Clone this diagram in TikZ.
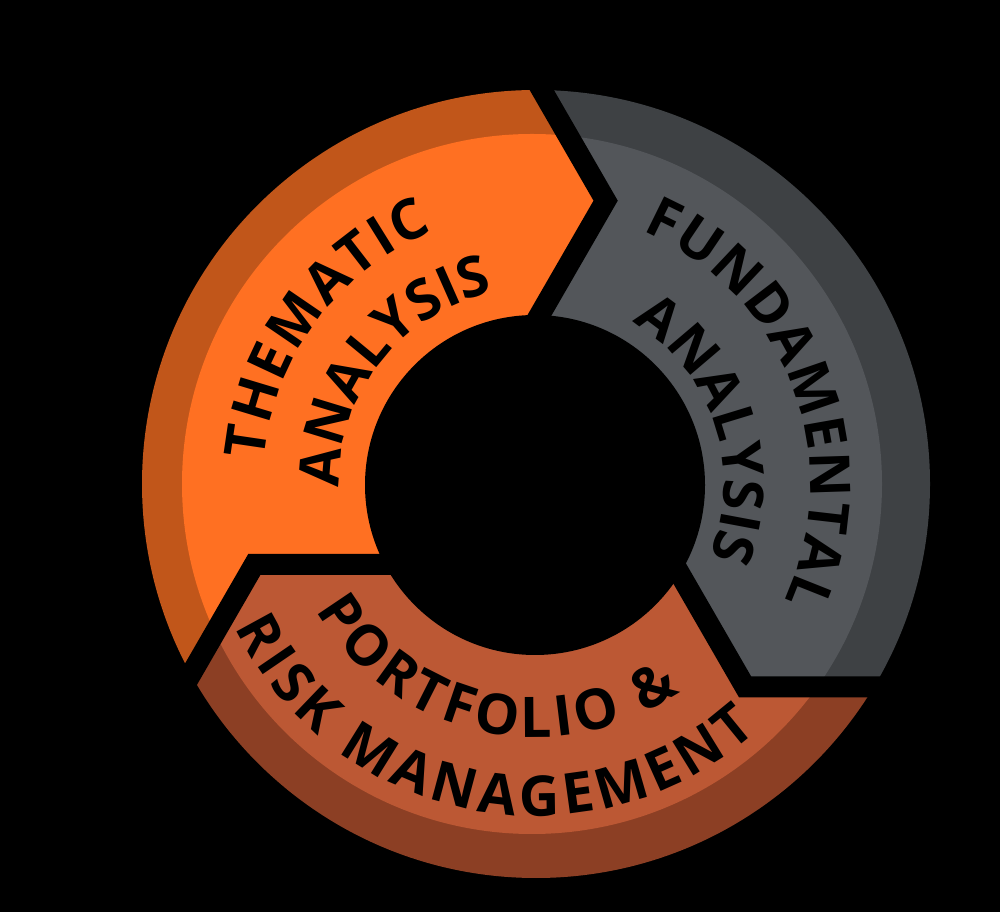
\documentclass[tikz,border=0pt]{standalone}
\usepackage{fontspec}
\setmainfont{Open Sans}
\usepackage{tikz}
\usetikzlibrary{calc,decorations.text}
\definecolor{themeface}{HTML}{FF7022}
\definecolor{themerim}{HTML}{C1561A}
\definecolor{fundface}{HTML}{53565A}
\definecolor{fundrim}{HTML}{3E4144}
\definecolor{riskface}{HTML}{BC5834}
\definecolor{riskrim}{HTML}{8C3F24}
\newcommand\segfont{\fontsize{56}{56}\selectfont\bfseries}

\begin{document}
\begin{tikzpicture}[x=1pt,y=1pt,
  gap/.style={draw=black,line width=21pt,line join=miter},
  lbl/.style={decorate,decoration={text along path,text align=fit to path,text={|\segfont|#1}}}]
\useasboundingbox (0,0) rectangle (1000,912);
\fill[black] (0,0) rectangle (1000,912);
\coordinate (c) at (535,428);
% chevron gaps: top, right, left
\foreach \g/\n in {76/t,-44/r,196/l}{
  \coordinate (v\n) at ($(c)+(\g:292)$);
  \coordinate (i\n) at ($(v\n)+(\g+164:150)$);
  \coordinate (o\n) at ($(v\n)+(\g+44:250)$);
}
% thematic
\begin{scope}
\clip (c) -- (it) -- (vt) -- (ot) -- ($(c)+(106:700)$) -- ($(c)+(136:700)$) -- ($(c)+(166:700)$) -- ($(c)+(196:700)$) -- (ol) -- (vl) -- (il) -- cycle;
\fill[themerim] (536,428) circle (394);
\fill[themeface] (532,428) circle (350);
\end{scope}
% portfolio
\begin{scope}
\clip (c) -- (il) -- (vl) -- (ol) -- ($(c)+(226:700)$) -- ($(c)+(256:700)$) -- ($(c)+(286:700)$) -- ($(c)+(316:700)$) -- (or) -- (vr) -- (ir) -- cycle;
\fill[riskrim] (536,428) circle (394);
\fill[riskface] (532,428) circle (350);
\end{scope}
% fundamental
\begin{scope}
\clip (c) -- (ir) -- (vr) -- (or) -- ($(c)+(346:700)$) -- ($(c)+(376:700)$) -- ($(c)+(406:700)$) -- ($(c)+(436:700)$) -- (ot) -- (vt) -- (it) -- cycle;
\fill[fundrim] (536,428) circle (394);
\fill[fundface] (532,428) circle (350);
\end{scope}
\fill[black] (535,427) circle (170);
\draw[gap] (it) -- (vt) -- (ot);
\draw[gap] (ir) -- (vr) -- (or);
\draw[gap] (il) -- (vl) -- (ol);
% labels
\path[lbl=THEMATIC] ($(c)+(175:272)$) arc[start angle=175,end angle=112,radius=272];
\path[lbl=ANALYSIS] ($(c)+(181:196)$) arc[start angle=181,end angle=105,radius=196];
\path[lbl=FUNDAMENTAL] ($(c)+(67:275)$) arc[start angle=67,end angle=-25,radius=275];
\path[lbl=ANALYSIS] ($(c)+(59:189)$) arc[start angle=59,end angle=-20,radius=189];
\path[lbl={PORTFOLIO {\&}}] ($(c)+(210:253)$) arc[start angle=210,end angle=305,radius=253];
\path[lbl={RISK MANAGEMENT}] ($(c)+(205.5:332)$) arc[start angle=205.5,end angle=312,radius=332];
\end{tikzpicture}
\end{document}
